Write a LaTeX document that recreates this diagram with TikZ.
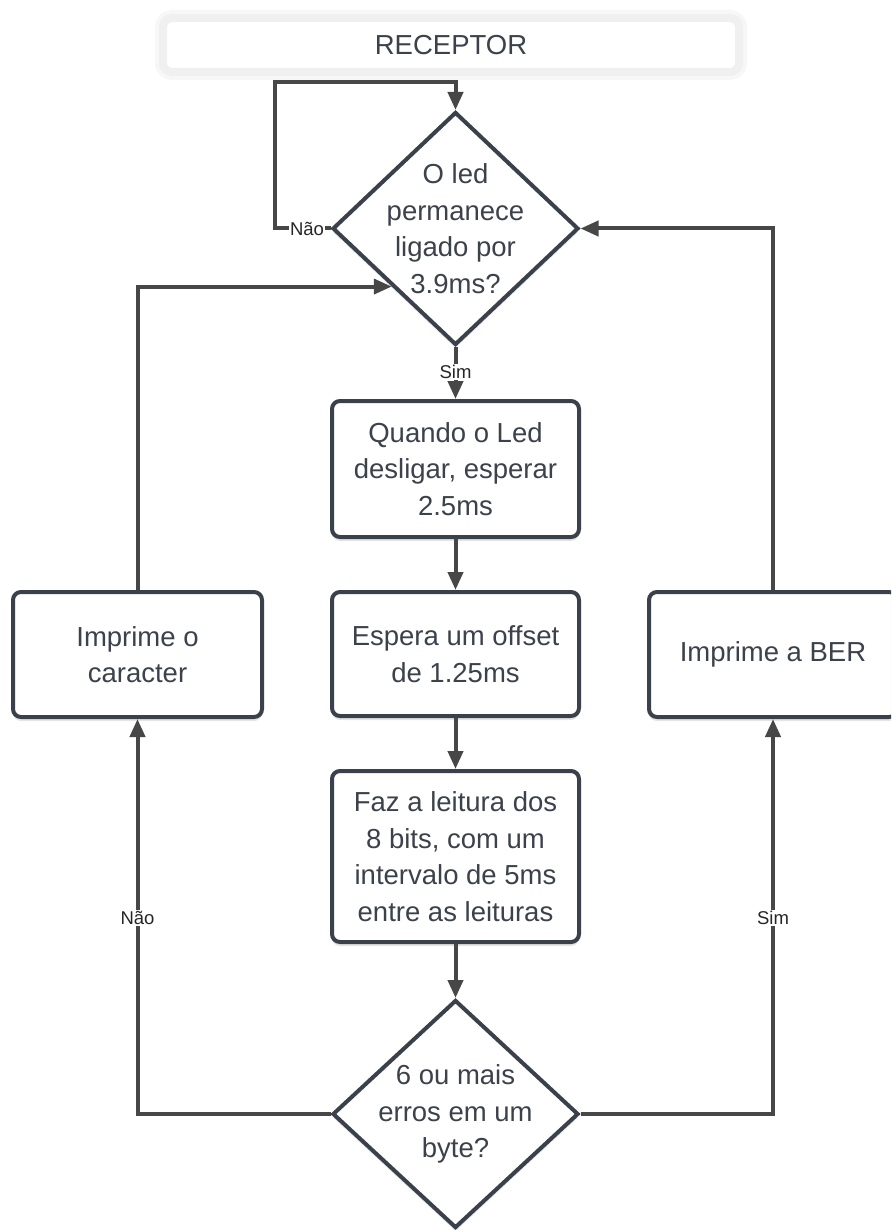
\documentclass[tikz,border=0pt]{standalone}
\usepackage{fontspec}
\setmainfont{Liberation Sans}
\usetikzlibrary{arrows.meta,shapes.geometric,calc,shadows}
\definecolor{lineC}{HTML}{474747}
\definecolor{boxC}{HTML}{3B414A}
\definecolor{txtC}{HTML}{3B424B}
\newcommand{\bigtxt}{\fontsize{27.5}{36.6}\selectfont}
\newcommand{\smalltxt}{\fontsize{18.5}{20}\selectfont}
\begin{document}
\begin{tikzpicture}[x=1pt,y=-1pt,
  proc/.style={draw=boxC, line width=4pt, rounded corners=8pt, fill=white,
    inner sep=0pt, align=center, text=txtC, font=\bigtxt,
    drop shadow={fill=black, opacity=0.10, shadow xshift=0pt, shadow yshift=-4pt}},
  dec/.style={diamond, draw=boxC, line width=4pt, fill=white, inner sep=0pt,
    drop shadow={fill=black, opacity=0.08, shadow xshift=0pt, shadow yshift=-4pt}},
  dtext/.style={align=center, text=txtC, font=\bigtxt},
  arr/.style={draw=lineC, line width=4pt, -{Triangle[width=15pt,length=18pt]}},
  lbl/.style={fill=white, inner sep=1.5pt, text=black!85, font=\smalltxt}]
\useasboundingbox (0,0) rectangle (891,1230);
\fill[white] (0,0) rectangle (891,1230);
\clip (0,0) rectangle (891,1230);

% header
\node[draw=black!6, line width=8pt, rounded corners=9pt, fill=white,
      preaction={draw=black!3, line width=16pt, rounded corners=9pt},
      minimum width=576pt, minimum height=54pt, inner sep=0pt,
      text=txtC, font=\bigtxt] (rec) at (451,45) {RECEPTOR};

% decisions
\node[dec, minimum width=246pt, minimum height=233pt] (d1) at (455.5,228.5) {};
\node[dtext] (d1t) at (d1.center) {O led\\permanece\\ligado por\\3.9ms?};
\node[dec, minimum width=246pt, minimum height=228pt] (d2) at (455.5,1114) {};
\node[dtext] (d2t) at (d2.center) {6 ou mais\\erros em um\\byte?};

% process boxes
\node[proc, minimum width=247pt, minimum height=136pt] (b1) at (455.5,469) {Quando o Led\\desligar, esperar\\2.5ms};
\node[proc, minimum width=247pt, minimum height=124pt] (b2) at (455.5,654) {Espera um offset\\de 1.25ms};
\node[proc, minimum width=247pt, minimum height=171pt] (b3) at (455.5,856.5) {Faz a leitura dos\\8 bits, com um\\intervalo de 5ms\\entre as leituras};
\node[proc, minimum width=249pt, minimum height=125pt] (bl) at (137.5,654.5) {Imprime o\\caracter};
\node[proc, minimum width=248pt, minimum height=125pt] (br) at (773,654.5) {Imprime a BER};

% connectors
\coordinate (loopc) at (275,82);
\draw[arr] (d1.west) -| (loopc) -| (d1.north);
\draw[arr] (d1.south) -- (b1.north);
\draw[arr] (b1.south) -- (b2.north);
\draw[arr] (b2.south) -- (b3.north);
\draw[arr] (b3.south) -- (d2.north);
\draw[arr] (d2.west) -| (bl.south);
\draw[arr] (d2.east) -| (br.south);
\coordinate (d1in) at ($(d1.west)!0.49!(d1.south)$);
\draw[arr] (bl.north) |- (d1in);
\draw[arr] (br.north) |- (d1.east);

% labels
\node[lbl] (l1) at (307,228.5) {Não};
\node[lbl] (l2) at (455.5,372) {Sim};
\node[lbl] (l3) at (137.5,918) {Não};
\node[lbl] (l4) at (773,918) {Sim};
\end{tikzpicture}
\end{document}
